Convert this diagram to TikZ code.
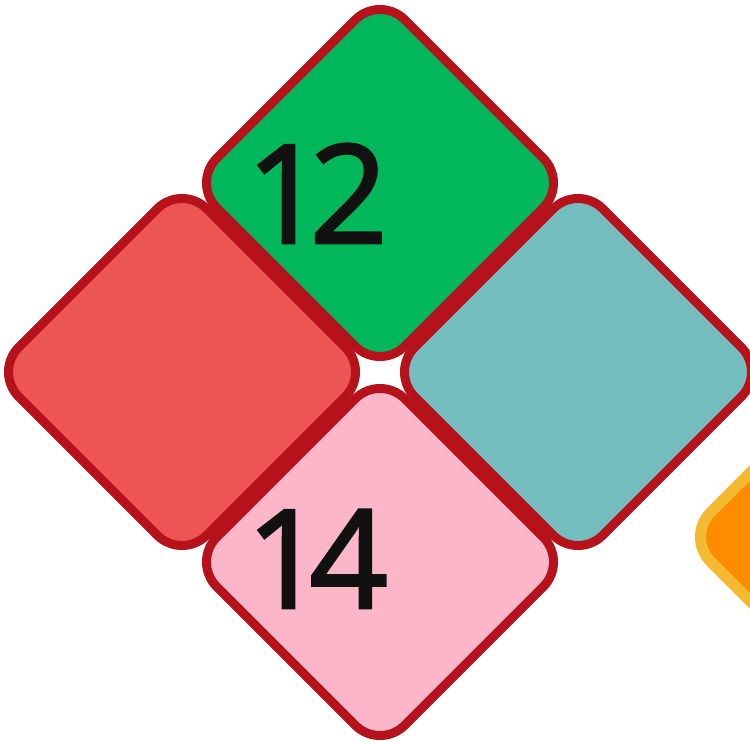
\documentclass[tikz,border=0pt]{standalone}
\usepackage{fontspec}
\setmainfont[Numbers=Proportional]{Open Sans}
\newfontfamily\digitfont[Numbers=Proportional,FakeBold=2]{Open Sans}
\definecolor{tileborder}{HTML}{B5121B}
\definecolor{tgreen}{HTML}{00B85B}
\definecolor{tred}{HTML}{EE5455}
\definecolor{tteal}{HTML}{75BEBF}
\definecolor{tpink}{HTML}{FBB6CA}
\definecolor{torange}{HTML}{FF8C00}
\definecolor{tyellow}{HTML}{F4BA32}
\definecolor{digit}{HTML}{111111}
\tikzset{
  tile/.style={draw=tileborder, line width=9pt, rounded corners=35pt, line join=round},
  otile/.style={draw=tyellow, fill=torange, line width=11pt, rounded corners=35pt, line join=round},
  num/.style={font=\digitfont\fontsize{137pt}{137pt}\selectfont, text=digit, inner sep=0pt, anchor=base west}
}
\begin{document}
\begin{tikzpicture}[x=1pt,y=-1pt]
\useasboundingbox (0,0) rectangle (750,741);
\clip (0,0) rectangle (750,741);
\fill[white] (0,0) rectangle (750,741);
% orange partial tile at right edge
\draw[otile] (874,537) +(0,-188) -- +(188,0) -- +(0,188) -- +(-188,0) -- cycle;
% four tiles
\draw[tile, fill=tred]   (182,372) +(0,-188) -- +(188,0) -- +(0,188) -- +(-188,0) -- cycle;
\draw[tile, fill=tteal]  (578,372) +(0,-188) -- +(188,0) -- +(0,188) -- +(-188,0) -- cycle;
\draw[tile, fill=tgreen] (380,183) +(0,-188) -- +(188,0) -- +(0,188) -- +(-188,0) -- cycle;
\draw[tile, fill=tpink]  (380,562) +(0,-188) -- +(188,0) -- +(0,188) -- +(-188,0) -- cycle;
% numbers
\node[num] (n12) at (255,243) {12};
\node[num] (n14) at (255,608) {14};
\end{tikzpicture}
\end{document}
